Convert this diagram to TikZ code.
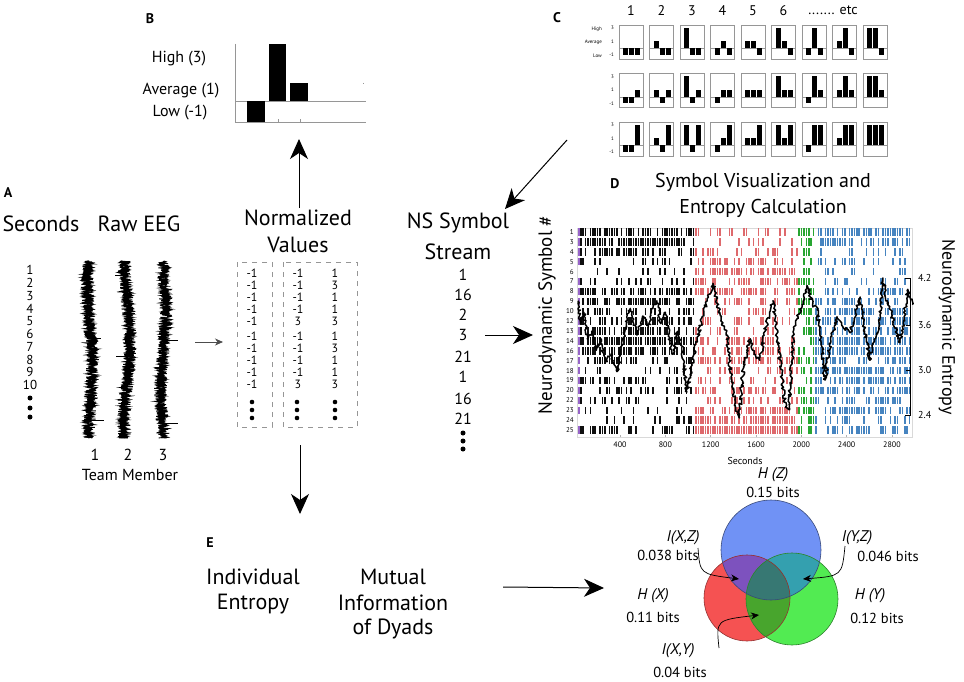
\documentclass[tikz,border=0pt]{standalone}
\usepackage{fontspec}
\setmainfont{PT Sans}
\usetikzlibrary{arrows.meta,decorations.pathmorphing}
\newcommand{\fsz}[1]{\fontsize{#1}{#1}\selectfont}
\definecolor{rred}{RGB}{222,105,108}
\definecolor{rblue}{RGB}{70,132,192}
\definecolor{rgreen}{RGB}{40,165,50}
\definecolor{rpurp}{RGB}{150,100,200}
\definecolor{rblack}{RGB}{15,15,15}
\definecolor{vblue}{RGB}{112,146,245}
\definecolor{vred}{RGB}{245,82,82}
\definecolor{vgreen}{RGB}{82,235,82}
\definecolor{vrb}{RGB}{125,82,190}
\definecolor{vbg}{RGB}{52,160,175}
\definecolor{vrg}{RGB}{72,165,45}
\definecolor{vrgb}{RGB}{55,120,115}
\definecolor{boxgray}{RGB}{150,150,150}
\begin{document}
\begin{tikzpicture}[x=1pt,y=-1pt,
  main/.style={font=\fsz{22}, inner sep=0pt},
  title/.style={font=\fsz{20}, inner sep=0pt},
  panel/.style={font=\bfseries\fsz{14}, inner sep=0pt},
  lvl/.style={font=\fsz{16}, inner sep=0pt},
  numA/.style={font=\fsz{13}, inner sep=0pt},
  nval/.style={font=\fsz{12}, inner sep=0pt},
  nsn/.style={font=\fsz{16}, inner sep=0pt},
  coln/.style={font=\fsz{14}, inner sep=0pt},
  tiny/.style={font=\fsz{5}, inner sep=0pt},
  rowlab/.style={font=\fsz{7}, inner sep=0pt, anchor=east},
  axlab/.style={font=\fsz{8}, inner sep=0pt},
  venn/.style={font=\fsz{14.5}, inner sep=0pt},
  vennit/.style={font=\itshape\fsz{15.5}, inner sep=0pt},
  bigarrow/.style={-{Stealth[length=20pt,width=18pt,inset=6pt]}, line width=1pt},
  smallarrow/.style={-{Stealth[length=8pt,width=7pt,inset=2.5pt]}, line width=0.8pt, black!70},
  curvarrow/.style={-{Stealth[length=8pt,width=7pt,inset=2.5pt]}, line width=0.7pt},
  dbox/.style={draw=boxgray, line width=1pt, dash pattern=on 5pt off 5pt},
  eeg/.style={line width=0.9pt, black},
  cbox/.style={draw=boxgray, line width=0.6pt},
  bar/.style={fill=black}
]
\useasboundingbox (0,0) rectangle (964,682);
\pgfmathsetseed{11}

% ================= Panel B =================
\node[panel] (B) at (150,19) {B};
\node[lvl] (hi) at (179,59) {High (3)};
\node[lvl] (av) at (181,91) {Average (1)};
\node[lvl] (lo) at (180,113) {Low (-1)};
\draw[boxgray, line width=0.7pt] (235,44) -- (235,122) -- (366,122);
\draw[boxgray, line width=0.7pt] (235,101) -- (366,101);
\draw[boxgray, line width=0.5pt] (278,122) -- (278,119) (300,122) -- (300,119) (363,83) -- (363,84.5);
\fill[black] (247,101) rectangle (265,122);
\fill[black] (269,44) rectangle (286,101);
\fill[black] (290,83) rectangle (308,101);

% ================= Panel C =================
\node[panel] (C) at (557,18) {C};
\foreach \k in {1,...,6} {
  \node[coln] (cn\k) at ({619+(\k-1)*30.5+12},11) {\k};
}
\node[coln] (cetc) at (833,10) {....... etc};
\node[tiny, anchor=east] (chigh) at (602,29) {High};
\node[tiny, anchor=east] (cavg) at (602,42) {Average};
\node[tiny, anchor=east] (clow) at (602,56) {Low};
\foreach \r/\top in {0/25,1/73.5,2/122} {
  \node[tiny, anchor=east] (t3\r) at (614,\top+3) {3};
  \node[tiny, anchor=east] (t1\r) at (614,\top+16.5) {1};
  \node[tiny, anchor=east] (tm\r) at (614,\top+30) {-1};
}
\foreach \r/\top in {0/25,1/73.5,2/122} {
  \foreach \k in {1,...,9} {
    \pgfmathsetmacro\lx{619+(\k-1)*30.5}
    \pgfmathtruncatemacro\idx{\r*9+\k-1}
    \pgfmathtruncatemacro\da{mod(\idx,3)}
    \pgfmathtruncatemacro\db{mod(int(\idx/3),3)}
    \pgfmathtruncatemacro\dc{int(\idx/9)}
    \draw[cbox] (\lx,\top) rectangle ++(24,34);
    \draw[boxgray, line width=0.4pt] (\lx,\top+23.5) -- ++(24,0);
    \foreach \d/\off in {\da/4,\db/10,\dc/16} {
      \ifnum\d=0
        \fill[bar] (\lx+\off,\top+23.5) rectangle ++(5,6.5);
      \else\ifnum\d=1
        \fill[bar] (\lx+\off,\top+16.5) rectangle ++(5,7);
      \else
        \fill[bar] (\lx+\off,\top+3) rectangle ++(5,20.5);
      \fi\fi
    }
  }
}

% ================= Panel A =================
\node[panel] (A) at (8,193) {A};
\node[main] (sec) at (41,224) {Seconds};
\node[main] (raw) at (139,224) {Raw EEG};
\foreach \n in {1,...,10} {
  \node[numA] (s\n) at (30,{270+(\n-1)*12.8}) {\n};
}
\fill (30,398) circle[radius=2.5pt] (30,408) circle[radius=2.5pt] (30,417) circle[radius=2.5pt];
\foreach \c/\w/\ph in {90/2.5/0, 127/3/60, 163/2.5/130} {
  \draw[eeg] plot[domain=261:438, samples=600, variable=\t]
     ({\c + \w*sin(\t*2.2+\ph) + 6.5*rand}, \t);
  \draw[eeg] plot[domain=261:438, samples=400, variable=\t]
     ({\c + \w*sin(\t*2.2+\ph) + 4*rand}, \t);
}
\draw[line width=1pt] (90,420) -- (104,420) (90,338) -- (101,338)
  (127,275) -- (115,275) (127,356) -- (116,356)
  (163,340) -- (178,340) (163,423) -- (178,423);
\node[lvl] (tm1) at (95,455) {1};
\node[lvl] (tm2) at (128,455) {2};
\node[lvl] (tm3) at (163,455) {3};
\node[lvl] (team) at (130,475) {Team Member};
\coordinate (aA) at (195,342);
\coordinate (aN) at (223,342);
\draw[smallarrow] (aA) -- (aN);

% ================= Normalized values =================
\node[main] (norm1) at (298,218) {Normalized};
\node[main] (norm2) at (298,245) {Values};
\draw[dbox] (237,262) rectangle (272,427);
\draw[dbox] (283,262) rectangle (357,427);
\foreach \y/\a/\b [count=\i] in {273/-1/1, 285/-1/3, 297/-1/1, 309/-1/1, 321/3/3,
                                  336/-1/1, 348/-1/3, 360/-1/1, 372/-1/1, 384/3/3} {
  \node[nval] (na\i) at (252,\y) {-1};
  \node[nval] (nb\i) at (298,\y) {\a};
  \node[nval] (nc\i) at (335,\y) {\b};
}
\foreach \x in {252,297,335} {
  \fill (\x,402) circle[radius=2.3pt] (\x,410) circle[radius=2.3pt] (\x,418) circle[radius=2.3pt];
}
\coordinate (upS) at (299,208);
\coordinate (upE) at (299,139);
\draw[bigarrow] (upS) -- (upE);
\coordinate (dnS) at (300,445);
\coordinate (dnE) at (300,514);
\draw[bigarrow] (dnS) -- (dnE);

% ================= NS symbol stream =================
\node[main] (ns1) at (458,223) {NS Symbol};
\node[main] (ns2) at (458,252) {Stream};
\foreach \y/\v [count=\i] in {275/1, 295/16, 315/2, 335/3, 357/21, 377/1, 399/16, 419/21} {
  \node[nsn] (nsv\i) at (463,\y) {\v};
}
\fill (463,433) circle[radius=2.5pt] (463,441) circle[radius=2.5pt] (463,449) circle[radius=2.5pt];
\coordinate (cS) at (567,140);
\coordinate (cE) at (505,209);
\draw[bigarrow] (cS) -- (cE);
\coordinate (nsS) at (485,335);
\coordinate (nsE) at (533,335);
\draw[bigarrow] (nsS) -- (nsE);

% ================= Panel D =================
\node[panel] (D) at (615,184) {D};
\node[title] (dt1) at (763,182) {Symbol Visualization and};
\node[title] (dt2) at (763,208) {Entropy Calculation};
\draw[black!15, line width=0.6pt] (577,228) rectangle (912,437);
\foreach \lab/\pk/\pr/\pb/\pp [count=\i from 0] in {
 1/0.8/0.2/0.65/1, 3/0.85/0.15/0.65/1, 4/0.5/0.4/0.25/1, 5/0.3/0.45/0.3/1,
 6/0.15/0.75/0.25/0, 7/0.45/0.65/0.35/1, 8/0.65/0.7/0.5/1, 9/0.8/0.4/0.6/1,
 10/0.5/0.3/0.65/0, 12/0.55/0.3/0.65/1, 13/0.65/0.25/0.65/1, 14/0.9/0.55/0.85/1,
 16/0.8/0.65/0.8/1, 17/0.55/0.65/0.45/1, 18/0.3/0.45/0.65/1, 19/0.5/0.4/0.7/1,
 20/0.5/0.4/0.75/1, 22/0.3/0.45/0.6/1, 23/0.3/0.7/0.65/1, 24/0.3/0.9/0.5/0,
 25/0.45/0.97/0.45/1} {
  \pgfmathsetmacro\yy{232+\i*9.9}
  \node[rowlab] (rl\lab) at (574,\yy) {\lab};
  \ifnum\pp=1 \fill[rpurp] (577.5,\yy-3.7) rectangle ++(2,7.4); \fi
  \foreach \j in {0,...,137} {
    \pgfmathsetmacro\xx{580+2.4*\j}
    \pgfmathtruncatemacro\seg{\xx<695 ? 0 : (\xx<796 ? 1 : (\xx<813 ? 2 : 3))}
    \ifcase\seg \let\p\pk \def\col{rblack}\or \let\p\pr \def\col{rred}\or \def\p{0.6}\def\col{rgreen}\else \let\p\pb \def\col{rblue}\fi
    \pgfmathtruncatemacro\hit{rnd<\p ? 1 : 0}
    \ifnum\hit=1
      \fill[\col] (\xx,\yy-3.7) rectangle ++(1.5,7.4);
    \fi
  }
}
\foreach \s in {400,800,...,2800} {
  \pgfmathsetmacro\xs{574.7+0.1133*\s}
  \node[axlab] (xl\s) at (\xs,445) {\s};
  \draw[black!30, line width=0.4pt] (\xs,437) -- ++(0,-2);
}
\node[font=\fsz{10}, inner sep=0pt] (dsec) at (745,461) {Seconds};
\node[font=\fsz{19}, inner sep=0pt, rotate=90] (ylab) at (547,315) {Neurodynamic Symbol \#};
\node[font=\fsz{18}, inner sep=0pt, rotate=-90] (ylab2) at (947,327) {Neurodynamic Entropy};
\draw[line width=0.6pt] (905,278) -- (910,278) -- (910,415) -- (905,415);
\draw[line width=0.6pt] (906,325) -- (910,325) (906,370) -- (910,370);
\node[font=\fsz{10}, inner sep=0pt, anchor=west] (e42) at (918,278) {4.2};
\node[font=\fsz{10}, inner sep=0pt, anchor=west] (e36) at (918,325) {3.6};
\node[font=\fsz{10}, inner sep=0pt, anchor=west] (e30) at (918,370) {3.0};
\node[font=\fsz{10}, inner sep=0pt, anchor=west] (e24) at (918,415) {2.4};
\begin{scope}[shift={(574.7,597.6)}, x=0.1133pt, y=76.1pt]
\draw[line width=1.5pt, line join=round, decorate,
      decoration={random steps, segment length=1.6pt, amplitude=1.7pt}]
  plot coordinates {(30,3.9) (50,3.6) (80,3.75) (110,3.4) (150,3.5) (190,3.25) (230,3.4)
  (270,3.1) (320,3.2) (373,2.97) (410,3.3) (450,3.55) (490,3.8) (520,3.6) (550,3.45)
  (600,3.7) (650,3.55) (700,3.85) (725,3.9) (760,3.6) (800,3.75) (840,3.4) (870,3.2)
  (910,3.5) (950,3.3) (990,2.7) (1030,3.0) (1080,3.4) (1130,3.7) (1180,3.95) (1220,4.13)
  (1260,3.85) (1300,3.6) (1345,3.45) (1380,2.9) (1420,2.5) (1450,2.37) (1490,3.03)
  (1520,3.25) (1550,3.4) (1590,3.2) (1635,3.12) (1680,3.5) (1720,3.75) (1750,3.9)
  (1790,3.4) (1820,3.0) (1860,2.5) (1890,2.47) (1930,3.48) (1970,3.7) (2010,3.85)
  (2050,4.1) (2100,3.85) (2140,3.78) (2180,3.3) (2210,2.86) (2250,3.3) (2315,3.69)
  (2370,3.55) (2430,3.48) (2480,3.75) (2520,3.95) (2560,3.5) (2605,3.12) (2650,3.4)
  (2695,3.65) (2720,4.2) (2760,3.9) (2800,3.7) (2840,3.5) (2870,3.35) (2900,3.6)
  (2940,4.05) (2980,3.85)};
\end{scope}

% ================= Panel E =================
\node[panel] (E) at (210,543) {E};
\node[main] (ind1) at (253,577) {Individual};
\node[main] (ind2) at (253,604) {Entropy};
\node[main] (mut1) at (393,577) {Mutual};
\node[main] (mut2) at (393,603) {Information};
\node[main] (mut3) at (393,629) {of Dyads};
\coordinate (eS) at (503,587);
\coordinate (eE) at (604,588);
\draw[bigarrow] (eS) -- (eE);

% Venn
\coordinate (vb) at (771,550);
\coordinate (vr) at (747,598);
\coordinate (vg) at (792,599);
\fill[vblue] (vb) circle[radius=50pt];
\fill[vred] (vr) circle[radius=43pt];
\fill[vgreen] (vg) circle[radius=46pt];
\begin{scope}\clip (vr) circle[radius=43pt]; \fill[vrb] (vb) circle[radius=50pt]; \end{scope}
\begin{scope}\clip (vb) circle[radius=50pt]; \fill[vbg] (vg) circle[radius=46pt]; \end{scope}
\begin{scope}\clip (vr) circle[radius=43pt]; \fill[vrg] (vg) circle[radius=46pt]; \end{scope}
\begin{scope}\clip (vr) circle[radius=43pt]; \clip (vg) circle[radius=46pt]; \fill[vrgb] (vb) circle[radius=50pt]; \end{scope}
\draw[vred!60!black, line width=0.6pt] (vr) circle[radius=43pt];
\draw[vgreen!55!black, line width=0.6pt] (vg) circle[radius=46pt];
\draw[vblue!50!black, line width=0.6pt] (vb) circle[radius=50pt];

\node[vennit] (hz) at (773,475) {H (Z)};
\node[venn] (hzb) at (773,492) {0.15 bits};
\node[vennit] (ixz) at (683,538) {I(X,Z)};
\node[venn] (ixzb) at (668,555) {0.038 bits};
\node[vennit] (iyz) at (857,538) {I(Y,Z)};
\node[venn] (iyzb) at (888,556) {0.046 bits};
\node[vennit] (hx) at (653,596) {H (X)};
\node[venn] (hxb) at (653,617) {0.11 bits};
\node[vennit] (hy) at (870,596) {H (Y)};
\node[venn] (hyb) at (877,618) {0.12 bits};
\node[vennit] (ixy) at (678,651) {I(X,Y)};
\node[venn] (ixyb) at (680,672) {0.04 bits};
\coordinate (c1s) at (698,548);
\coordinate (c1e) at (739,579);
\coordinate (c2s) at (845,546);
\coordinate (c2e) at (803,579);
\coordinate (c3s) at (719,648);
\coordinate (c3e) at (759,615);
\draw[curvarrow] (c1s) .. controls (700,574) .. (c1e);
\draw[curvarrow] (c2s) .. controls (842,576) .. (c2e);
\draw[curvarrow] (c3s) .. controls (716,620) .. (c3e);
\end{tikzpicture}
\end{document}
